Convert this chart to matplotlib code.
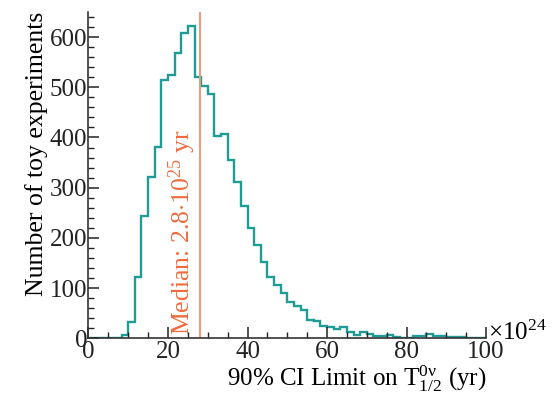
import matplotlib
matplotlib.use('Agg')
import matplotlib.pyplot as plt
import numpy as np

# toy-experiment limits, 60 bins between 0 and 100 (x 1e24 yr)
bin_lo = 0.0
bin_hi = 100.0
counts = [0, 0, 0, 0, 0, 7, 33, 122, 243, 321,
          381, 515, 525, 568, 608, 622, 521, 502, 487, 403,
          406, 355, 312, 263, 219, 186, 152, 123, 106, 91,
          73, 64, 56, 36, 35, 24, 23, 18, 22, 13,
          6, 13, 8, 5, 5, 7, 3, 1, 1, 5,
          5, 8, 5, 5, 2, 2, 3, 1, 1, 1]
median = 28.0

x_ticks = [0, 20, 40, 60, 80, 100]
y_ticks = [0, 100, 200, 300, 400, 500, 600]

plt.rcParams['font.family'] = ['Liberation Serif', 'DejaVu Serif']
plt.rcParams['mathtext.fontset'] = 'custom'
plt.rcParams['mathtext.rm'] = 'Liberation Serif'
plt.rcParams['mathtext.it'] = 'Liberation Serif:italic'

teal = '#1f9c95'
line_orange = '#f29574'
text_orange = '#ee6b3e'

fig = plt.figure(figsize=(5.53, 3.98), dpi=100)
ax = fig.add_axes([0.160, 0.150, 0.719, 0.820])

edges = np.linspace(bin_lo, bin_hi, len(counts) + 1)
ax.stairs(counts, edges, color=teal, lw=1.7)

ax.axvline(median, color=line_orange, lw=1.4)
ax.text(median - 0.5, 6, r'Median: 2.8$\cdot$10$^{25}$ yr', rotation=90,
        color=text_orange, fontsize=18.5, ha='right', va='bottom')

ax.set_xlim(0, 100)
ax.set_ylim(0, 650)
ax.set_xticks(x_ticks)
ax.set_yticks(y_ticks)
ax.set_xticks(np.arange(0, 101, 5), minor=True)
ax.set_yticks(np.arange(0, 651, 20), minor=True)

for side in ['top', 'right']:
    ax.spines[side].set_visible(False)
for side in ['left', 'bottom']:
    ax.spines[side].set_linewidth(1.2)
    ax.spines[side].set_color('#333333')

ax.tick_params(which='major', direction='in', length=8, width=1.1,
               labelsize=18, colors='#222222')
ax.tick_params(which='minor', direction='in', length=4, width=1.0,
               colors='#222222')
ax.tick_params(axis='y', pad=1)
ax.tick_params(axis='x', pad=2)

ax.text(1.005, -0.004, r'$\times$10$^{24}$', transform=ax.transAxes,
        fontsize=18, ha='left', va='baseline')

ax.set_xlabel(r'90% CI Limit on $\mathrm{T}^{\mathrm{0ν}}_{\mathrm{1/2}}$ (yr)',
              fontsize=18, loc='right', labelpad=0)
ax.set_ylabel('Number of toy experiments', fontsize=18.5, loc='top', labelpad=1)

fig.savefig('out.png', dpi=100)
